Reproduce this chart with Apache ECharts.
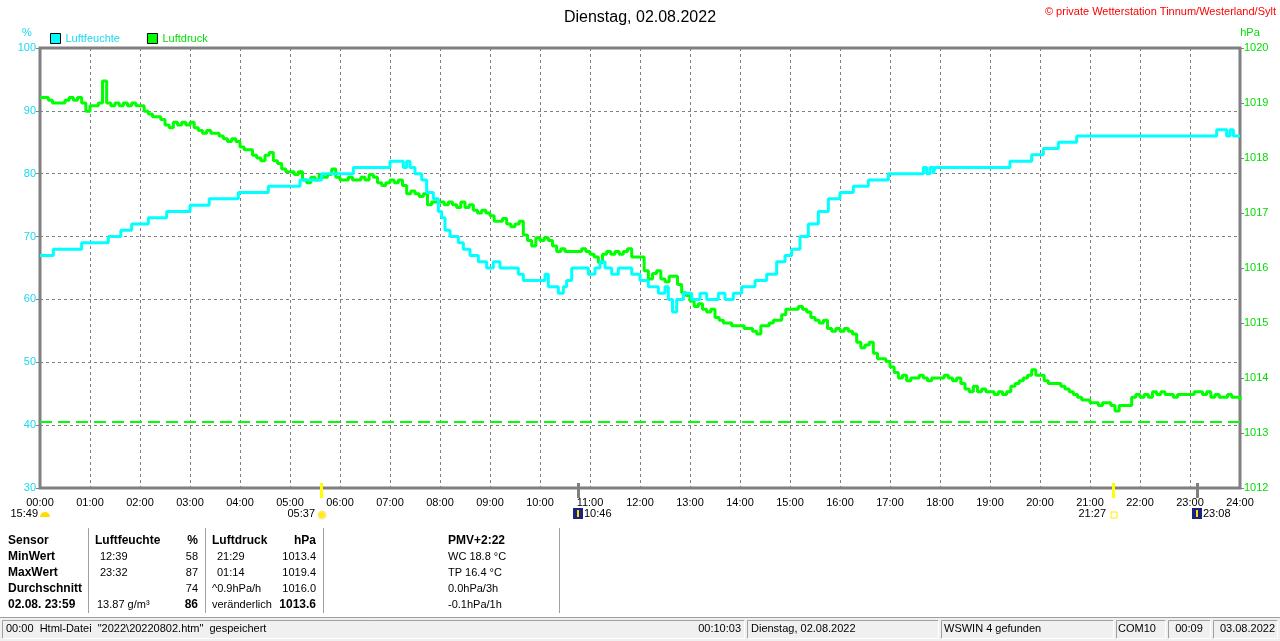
<!DOCTYPE html>
<html>
<head>
<meta charset="utf-8">
<script src="https://cdn.jsdelivr.net/npm/echarts@6/dist/echarts.min.js"></script>
<style>
  html, body { margin: 0; padding: 0; background: #fff; }
  #main { width: 1280px; height: 641px; }
</style>
</head>
<body>
<div id="main"></div>
<script>
(function () {

  // Luftfeuchte: change points (time, %)
  var humTimes = ['00:00','00:16','00:50','01:22','01:37','01:50','02:10','02:32','03:00','03:23',
    '03:58','04:34','05:12','05:38','06:16','07:00','07:16','07:20','07:24','07:30',
    '07:38','07:44','07:52','07:58','08:02','08:06','08:12','08:22','08:28','08:36',
    '08:46','08:56','09:04','09:12','09:34','09:40','10:06','10:10','10:22','10:28',
    '10:32','10:38','10:58','11:06','11:12','11:18','11:26','11:34','11:50','12:00',
    '12:10','12:22','12:30','12:34','12:39','12:44','12:52','13:02','13:12','13:20',
    '13:34','13:42','13:52','14:02','14:18','14:32','14:44','14:54','15:02','15:12',
    '15:22','15:34','15:46','16:00','16:16','16:34','16:58','17:40','17:44','17:48',
    '17:52','17:54','19:24','19:50','20:04','20:22','20:44','23:32','23:44','23:48',
    '23:52','24:00'];
  var humValues = [67,68,69,70,71,72,73,74,75,76,
    77,78,79,80,81,82,81,82,81,80,
    79,77,76,74,73,71,70,69,68,67,
    66,65,66,65,64,63,64,62,61,62,
    63,65,64,65,66,65,64,65,64,63,
    62,61,62,60,58,60,61,60,61,60,
    61,60,61,62,63,64,66,67,68,70,
    72,74,76,77,78,79,80,81,80,81,
    80,81,82,83,84,85,86,87,86,87,
    86,86];

  // Luftdruck, one reading every 5 minutes from 00:00 to 24:00 (hPa), one row per hour
  var pressValues = [
    1019.1,1019.1,1019.05,1019.0,1019.0,1019.0,1019.05,1019.1,1019.05,1019.1,1019.0,1018.85,
    1018.95,1018.95,1019.0,1019.4,1019.0,1018.95,1019.0,1018.95,1019.0,1018.95,1019.0,1018.95,
    1018.95,1018.85,1018.8,1018.75,1018.75,1018.7,1018.6,1018.55,1018.65,1018.6,1018.65,1018.6,
    1018.65,1018.55,1018.5,1018.45,1018.5,1018.45,1018.45,1018.4,1018.35,1018.3,1018.35,1018.3,
    1018.2,1018.15,1018.15,1018.05,1018.0,1017.95,1018.05,1018.1,1017.95,1017.9,1017.8,1017.75,
    1017.75,1017.7,1017.75,1017.6,1017.55,1017.65,1017.6,1017.7,1017.65,1017.7,1017.8,1017.65,
    1017.6,1017.6,1017.65,1017.6,1017.6,1017.65,1017.6,1017.7,1017.65,1017.55,1017.5,1017.55,
    1017.6,1017.55,1017.6,1017.5,1017.35,1017.4,1017.35,1017.3,1017.35,1017.15,1017.2,1017.2,
    1017.2,1017.15,1017.2,1017.15,1017.1,1017.2,1017.1,1017.15,1017.05,1017.0,1017.05,1017.0,
    1016.95,1016.85,1016.85,1016.9,1016.8,1016.75,1016.8,1016.85,1016.6,1016.5,1016.4,1016.55,
    1016.5,1016.55,1016.5,1016.4,1016.3,1016.35,1016.3,1016.3,1016.3,1016.3,1016.35,1016.3,
    1016.25,1016.2,1016.1,1016.25,1016.3,1016.25,1016.3,1016.25,1016.3,1016.35,1016.2,1016.2,
    1016.2,1015.95,1015.8,1015.9,1015.95,1015.8,1015.75,1015.85,1015.85,1015.7,1015.55,1015.5,
    1015.4,1015.3,1015.35,1015.25,1015.2,1015.25,1015.1,1015.05,1015.0,1015.0,1014.95,1014.95,
    1014.95,1014.9,1014.9,1014.85,1014.8,1014.95,1014.95,1015.0,1015.05,1015.05,1015.15,1015.25,
    1015.25,1015.25,1015.3,1015.25,1015.2,1015.1,1015.05,1015.0,1015.05,1014.9,1014.85,1014.9,
    1014.85,1014.9,1014.85,1014.8,1014.65,1014.55,1014.6,1014.65,1014.45,1014.35,1014.35,1014.3,
    1014.2,1014.1,1014.0,1014.05,1013.95,1014.0,1014.0,1014.05,1014.0,1013.95,1014.0,1014.0,
    1014.0,1014.05,1014.0,1013.95,1014.0,1013.9,1013.8,1013.75,1013.85,1013.75,1013.8,1013.75,
    1013.75,1013.7,1013.75,1013.7,1013.75,1013.85,1013.9,1013.95,1014.0,1014.05,1014.15,1014.05,
    1014.05,1013.95,1013.9,1013.9,1013.9,1013.85,1013.8,1013.75,1013.7,1013.65,1013.6,1013.6,
    1013.55,1013.55,1013.5,1013.55,1013.55,1013.5,1013.4,1013.5,1013.5,1013.5,1013.65,1013.7,
    1013.65,1013.7,1013.65,1013.75,1013.7,1013.75,1013.7,1013.7,1013.65,1013.7,1013.7,1013.7,
    1013.7,1013.75,1013.75,1013.7,1013.75,1013.65,1013.7,1013.65,1013.65,1013.7,1013.65,1013.65,
    1013.6];
  var pressStepMin = 5;

  var refPressure = 1013.2;

  // Sonne / Mond
  var eventTimes = ['00:00','05:37','10:46','21:27','23:08'];
  var eventTexts = ['15:49','05:37','10:46','21:27','23:08'];
  var eventKinds = ['moonset','sunrise','moonrise','sunset','moonset2'];

  // Tabelle
  var tableRows = [
    ['Sensor', 'Luftfeuchte', '%', 'Luftdruck', 'hPa', 'PMV+2:22'],
    ['MinWert', '12:39', '58', '21:29', '1013.4', 'WC 18.8 °C'],
    ['MaxWert', '23:32', '87', '01:14', '1019.4', 'TP 16.4 °C'],
    ['Durchschnitt', '', '74', '^0.9hPa/h', '1016.0', '0.0hPa/3h'],
    ['02.08. 23:59', '13.87 g/m³', '86', 'veränderlich', '1013.6', '-0.1hPa/1h']
  ];

  var FONT = '"Liberation Sans", Arial, sans-serif';
  var CYAN = '#00ffff';
  var CYAN_TXT = '#1ad9f0';
  var GREEN = '#00ff00';
  var GREEN_TXT = '#00dd00';

  function toH(s) {
    var p = s.split(':');
    return +p[0] + (+p[1]) / 60;
  }
  function pad(n) { return (n < 10 ? '0' : '') + n; }

  var humData = humTimes.map(function (t, i) { return [toH(t), humValues[i]]; });
  var pressData = pressValues.map(function (v, i) { return [i * pressStepMin / 60, v]; });

  var myChart = echarts.init(document.getElementById('main'));

  var option = {
    animation: false,
    backgroundColor: '#fff',
    textStyle: { fontFamily: FONT },
    title: {
      text: 'Dienstag, 02.08.2022',
      left: 'center',
      top: 5,
      textStyle: { fontSize: 16, fontWeight: 'normal', color: '#000', fontFamily: FONT }
    },
    legend: {
      left: 45,
      top: 28,
      icon: 'rect',
      itemWidth: 10,
      itemHeight: 10,
      itemGap: 27,
      itemStyle: { borderColor: '#000', borderWidth: 1 },
      textStyle: { fontSize: 11, fontFamily: FONT },
      data: [
        { name: 'Luftfeuchte', textStyle: { color: CYAN_TXT } },
        { name: 'Luftdruck', textStyle: { color: GREEN_TXT } }
      ]
    },
    grid: {
      left: 40, right: 40, top: 48, bottom: 153,
      show: true,
      borderColor: '#808080',
      borderWidth: 3,
      backgroundColor: '#fff'
    },
    xAxis: {
      type: 'value',
      min: 0, max: 24, interval: 1,
      axisLine: { show: false },
      axisTick: { show: false },
      axisLabel: {
        color: '#000', fontSize: 11, fontFamily: FONT, margin: 9,
        formatter: function (v) { return pad(v) + ':00'; }
      },
      splitLine: { lineStyle: { color: '#808080', type: [3, 3], width: 1 } }
    },
    yAxis: [{
      type: 'value',
      min: 30, max: 100, interval: 10,
      position: 'left',
      axisLine: { show: false },
      axisTick: { show: true, length: 4, lineStyle: { color: '#808080', width: 1 } },
      axisLabel: { color: CYAN_TXT, fontSize: 11, fontFamily: FONT, margin: 4 },
      splitLine: { lineStyle: { color: '#808080', type: [3, 3], width: 1 } }
    }, {
      type: 'value',
      min: 1012, max: 1020, interval: 1,
      position: 'right',
      axisLine: { show: false },
      axisTick: { show: true, length: 4, lineStyle: { color: '#808080', width: 1 } },
      axisLabel: {
        color: GREEN_TXT, fontSize: 11, fontFamily: FONT, margin: 4,
        formatter: function (v) { return String(v); }
      },
      splitLine: { show: false }
    }],
    series: [{
      name: 'Luftdruck',
      type: 'line',
      yAxisIndex: 1,
      step: 'end',
      showSymbol: false,
      itemStyle: { color: GREEN },
      lineStyle: { color: GREEN, width: 3 },
      data: pressData,
      z: 2,
      markLine: {
        silent: true,
        symbol: 'none',
        label: { show: false },
        lineStyle: { color: GREEN, type: [12, 6], width: 2 },
        data: [{ yAxis: refPressure }]
      }
    }, {
      name: 'Luftfeuchte',
      type: 'line',
      yAxisIndex: 0,
      step: 'end',
      showSymbol: false,
      itemStyle: { color: CYAN },
      lineStyle: { color: CYAN, width: 3 },
      data: humData,
      z: 3
    }]
  };

  myChart.setOption(option);

  // extra graphics: units, copyright, events, table, status bar
  var g = [];

  function txt(x, y, s, color, opts) {
    opts = opts || {};
    g.push({
      type: 'text', x: x, y: y, z: 20,
      style: {
        text: s, fill: color || '#000',
        font: (opts.bold ? 'bold ' : '') + (opts.size || 11) + 'px ' + FONT,
        textAlign: opts.align || 'left', textVerticalAlign: 'middle'
      }
    });
  }

  txt(27, 33, '%', CYAN_TXT, { align: 'center' });
  txt(1250, 33, 'hPa', GREEN_TXT, { align: 'center' });
  txt(1276, 12, '© private Wetterstation Tinnum/Westerland/Sylt', '#ff0000', { align: 'right' });

  var axisY = myChart.convertToPixel({ yAxisIndex: 0 }, 30);
  var evY = axisY + 26;
  eventTimes.forEach(function (t, i) {
    var x = Math.round(myChart.convertToPixel({ xAxisIndex: 0 }, toH(t)));
    var kind = eventKinds[i];
    if (kind === 'sunrise' || kind === 'sunset') {
      g.push({ type: 'rect', z: 20, shape: { x: x - 1, y: axisY - 5, width: 3, height: 15 }, style: { fill: '#ffff00' } });
    }
    if (kind === 'moonrise' || kind === 'moonset2') {
      g.push({ type: 'rect', z: 20, shape: { x: x - 1, y: axisY - 5, width: 3, height: 15 }, style: { fill: '#808080' } });
    }
    if (kind === 'moonset') {
      txt(x - 2, evY, eventTexts[i], '#000', { align: 'right' });
      g.push({ type: 'sector', z: 20, shape: { cx: x + 5, cy: evY + 3, r: 5, startAngle: Math.PI, endAngle: 2 * Math.PI }, style: { fill: '#ffdd00' } });
    } else if (kind === 'sunrise') {
      txt(x - 6, evY, eventTexts[i], '#000', { align: 'right' });
      g.push({ type: 'circle', z: 20, shape: { cx: x + 1, cy: evY + 1, r: 3.5 }, style: { fill: '#ffee00', stroke: '#ffe680', lineWidth: 2 } });
    } else if (kind === 'sunset') {
      txt(x - 7, evY, eventTexts[i], '#000', { align: 'right' });
      g.push({ type: 'rect', z: 20, shape: { x: x - 2, y: evY - 2, width: 6, height: 6 }, style: { fill: '#fff', stroke: '#ffee00', lineWidth: 1 } });
    } else {
      g.push({ type: 'rect', z: 20, shape: { x: x - 5, y: evY - 6, width: 10, height: 11 }, style: { fill: '#1a237e' } });
      g.push({ type: 'rect', z: 21, shape: { x: x - 1, y: evY - 4, width: 2, height: 7 }, style: { fill: '#ffdd00' } });
      txt(x + 6, evY, eventTexts[i], '#000');
    }
  });

  // table
  var rowY = [541, 557, 573, 589, 605];
  var colX = [8, 100, 198, 217, 316, 448];
  var colAlign = ['left', 'left', 'right', 'left', 'right', 'left'];
  tableRows.forEach(function (row, r) {
    row.forEach(function (cell, c) {
      if (!cell) return;
      var bold = (r === 0) || (c === 0) || (r === 4 && (c === 2 || c === 4));
      var x = colX[c];
      if (r === 0 && c === 1) x = 95;
      if ((r === 0 || r === 3 || r === 4) && c === 3) x = 212;
      if (r === 4 && c === 1) x = 97;
      txt(x, rowY[r], cell, '#000', { bold: bold, align: colAlign[c], size: bold ? 12 : 11 });
    });
  });
  [88, 205, 323, 559].forEach(function (x) {
    g.push({ type: 'line', z: 20, shape: { x1: x + 0.5, y1: 528, x2: x + 0.5, y2: 613 }, style: { stroke: '#a0a0a0', lineWidth: 1 } });
  });

  // status bar
  g.push({ type: 'rect', z: 19, shape: { x: 0, y: 617, width: 1280, height: 24 }, style: { fill: '#f0f0f0' } });
  g.push({ type: 'line', z: 20, shape: { x1: 0, y1: 617.5, x2: 1280, y2: 617.5 }, style: { stroke: '#a0a0a0', lineWidth: 1 } });
  var panels = [[2, 744], [747, 938], [941, 1113], [1116, 1165], [1168, 1210], [1213, 1277]];
  panels.forEach(function (p) {
    g.push({ type: 'polyline', z: 20, shape: { points: [[p[0] + 0.5, 638.5], [p[0] + 0.5, 620.5], [p[1] + 0.5, 620.5]] }, style: { stroke: '#a0a0a0', lineWidth: 1, fill: null } });
    g.push({ type: 'polyline', z: 20, shape: { points: [[p[1] + 0.5, 620.5], [p[1] + 0.5, 638.5], [p[0] + 0.5, 638.5]] }, style: { stroke: '#ffffff', lineWidth: 1, fill: null } });
  });
  txt(6, 629, '00:00  Html-Datei  "2022\\20220802.htm"  gespeichert');
  txt(741, 629, '00:10:03', '#000', { align: 'right' });
  txt(751, 629, 'Dienstag, 02.08.2022');
  txt(944, 629, 'WSWIN 4 gefunden');
  txt(1118, 629, 'COM10');
  txt(1189, 629, '00:09', '#000', { align: 'center' });
  txt(1275, 629, '03.08.2022', '#000', { align: 'right' });

  myChart.setOption({ graphic: g });

})();
</script>
</body>
</html>
